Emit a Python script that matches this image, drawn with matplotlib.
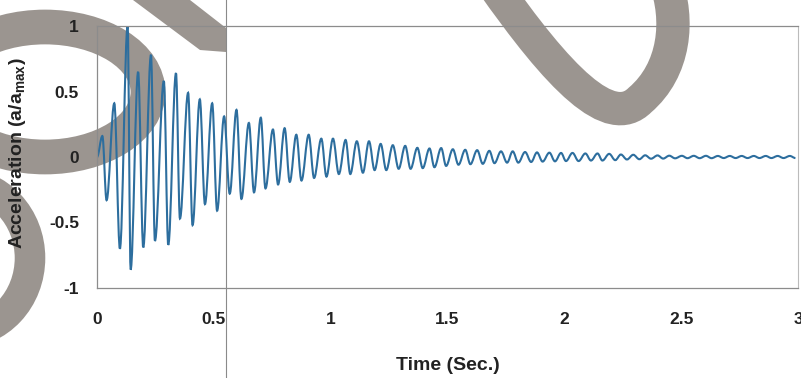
import matplotlib
matplotlib.use('Agg')
import matplotlib.pyplot as plt
from matplotlib.patches import Ellipse, PathPatch, Polygon
from matplotlib.path import Path
from matplotlib.lines import Line2D
from matplotlib.transforms import IdentityTransform

plt.rcParams['font.family'] = ['Liberation Sans', 'DejaVu Sans']
plt.rcParams['mathtext.fontset'] = 'custom'
plt.rcParams['mathtext.rm'] = 'Liberation Sans'
plt.rcParams['mathtext.bf'] = 'Liberation Sans:bold'

# peaks / troughs of the record (time in s, a/amax)
time_s = [0.000, 0.023, 0.041, 0.074, 0.098, 0.131, 0.144, 0.176, 0.198, 0.231,
          0.248, 0.286, 0.305, 0.338, 0.355, 0.390, 0.409, 0.440, 0.462, 0.493,
          0.514, 0.544, 0.568, 0.597, 0.618, 0.650, 0.672, 0.701, 0.721, 0.753,
          0.775, 0.803, 0.825, 0.853, 0.875, 0.906, 0.929, 0.960, 0.982, 1.010,
          1.035, 1.064, 1.084, 1.112, 1.138, 1.164, 1.188, 1.214, 1.238, 1.266,
          1.291, 1.319, 1.342, 1.371, 1.394, 1.423, 1.444, 1.473, 1.494, 1.523,
          1.547, 1.576, 1.598, 1.627, 1.651, 1.679, 1.701, 1.729, 1.755, 1.779,
          1.803, 1.832, 1.858, 1.883, 1.907, 1.936, 1.960, 1.986, 2.007, 2.035,
          2.061, 2.090, 2.114, 2.142, 2.163, 2.192, 2.218, 2.242, 2.268, 2.295,
          2.321, 2.346, 2.371, 2.399, 2.423, 2.449, 2.474, 2.503, 2.527, 2.554,
          2.579, 2.606, 2.630, 2.657, 2.682, 2.708, 2.733, 2.759, 2.784, 2.811,
          2.835, 2.862, 2.886, 2.913, 2.938, 2.965, 2.989]
accel = [0.00, 0.16, -0.33, 0.41, -0.70, 1.00, -0.86, 0.65, -0.69, 0.78,
         -0.64, 0.58, -0.67, 0.64, -0.47, 0.49, -0.52, 0.44, -0.36, 0.41,
         -0.41, 0.31, -0.28, 0.36, -0.32, 0.26, -0.27, 0.30, -0.24, 0.21,
         -0.21, 0.22, -0.19, 0.17, -0.18, 0.17, -0.16, 0.14, -0.15, 0.14,
         -0.13, 0.13, -0.13, 0.12, -0.12, 0.12, -0.10, 0.10, -0.10, 0.09,
         -0.09, 0.085, -0.09, 0.07, -0.085, 0.065, -0.078, 0.068, -0.068, 0.059,
         -0.059, 0.055, -0.055, 0.052, -0.052, 0.047, -0.047, 0.043, -0.043, 0.043,
         -0.043, 0.038, -0.038, 0.035, -0.035, 0.033, -0.033, 0.031, -0.031, 0.031,
         -0.031, 0.027, -0.027, 0.027, -0.027, 0.024, -0.024, 0.019, -0.019, 0.017,
         -0.017, 0.013, -0.013, 0.012, -0.012, 0.010, -0.010, 0.009, -0.009, 0.009,
         -0.009, 0.009, -0.009, 0.008, -0.008, 0.008, -0.008, 0.008, -0.008, 0.008,
         -0.008, 0.008, -0.008, 0.008, -0.008, 0.008, -0.008]

xticks = [0, 0.5, 1, 1.5, 2, 2.5, 3]
xtick_labels = ['0', '0.5', '1', '1.5', '2', '2.5', '3']
yticks = [-1, -0.5, 0, 0.5, 1]
ytick_labels = ['-1', '-0.5', '0', '0.5', '1']

W, H = 801, 378
fig = plt.figure(figsize=(W/100, H/100), dpi=100)
ax = fig.add_axes([97/W, 1-288/H, (798-97)/W, (288-26)/H])
ax.patch.set_visible(False)

# grey scan watermark, behind the chart (pixel coords, y from top)
wm = '#9b9590'
def px(x, y):
	return (x, H - y)
idt = IdentityTransform()
fig.add_artist(Ellipse(px(45, 92), 206, 130, fill=False, ec=wm, lw=25, transform=idt, zorder=-5))
fig.add_artist(Ellipse(px(-40, 258), 140, 150, fill=False, ec=wm, lw=22, transform=idt, zorder=-5))
fig.add_artist(Polygon([px(133, 0), px(190, 0), px(226, 28), px(226, 52), px(200, 50)],
                       closed=True, fc=wm, ec='none', transform=idt, zorder=-5))
loop = Path([px(490, -20), px(560, 80), px(610, 130), px(640, 100),
             px(675, 70), px(680, 20), px(665, -20)],
            [Path.MOVETO, Path.CURVE4, Path.CURVE4, Path.CURVE4,
             Path.CURVE4, Path.CURVE4, Path.CURVE4])
fig.add_artist(PathPatch(loop, fill=False, ec=wm, lw=24, capstyle='round', transform=idt, zorder=-5))
# fold line of the scan
fig.add_artist(Line2D([226, 226], [0, H], color='#8a8a8a', lw=0.8, transform=idt, zorder=-4))

# smooth line through the extrema (flat tangents at each peak)
verts = [(time_s[0], accel[0])]
codes = [Path.MOVETO]
k = 0.36
for i in range(1, len(time_s)):
	t0, v0 = time_s[i-1], accel[i-1]
	t1, v1 = time_s[i], accel[i]
	dt = t1 - t0
	verts += [(t0 + k*dt, v0), (t1 - k*dt, v1), (t1, v1)]
	codes += [Path.CURVE4, Path.CURVE4, Path.CURVE4]
ax.add_patch(PathPatch(Path(verts, codes), fill=False, ec='#2d6e9e', lw=1.5, transform=ax.transData))

ax.set_xlim(0, 3)
ax.set_ylim(-1, 1)
ax.set_xticks(xticks)
ax.set_xticklabels(xtick_labels)
ax.set_yticks(yticks)
ax.set_yticklabels(ytick_labels)
ax.tick_params(axis='both', length=0, labelsize=12.5, labelcolor='#222222')
ax.tick_params(axis='x', pad=17)
ax.tick_params(axis='y', pad=13)
for lab in ax.get_xticklabels() + ax.get_yticklabels():
	lab.set_fontweight('bold')

for s in ['left', 'bottom', 'top']:
	ax.spines[s].set_color('#8c8c8c')
	ax.spines[s].set_linewidth(0.9)
ax.spines['right'].set_color('#bbbbbb')
ax.spines['right'].set_linewidth(0.8)

ax.set_xlabel('Time (Sec.)', fontsize=14, fontweight='bold', color='#222222', va='center')
ax.xaxis.set_label_coords(0.5, -(365-288)/262)
ax.set_ylabel(r'Acceleration (a/a$_{\mathbf{max}}$)', fontsize=14, fontweight='bold', color='#222222', va='center', ha='center')
ax.yaxis.set_label_coords((18-97)/701, (288-153)/262)

fig.savefig('out.png', dpi=100)
